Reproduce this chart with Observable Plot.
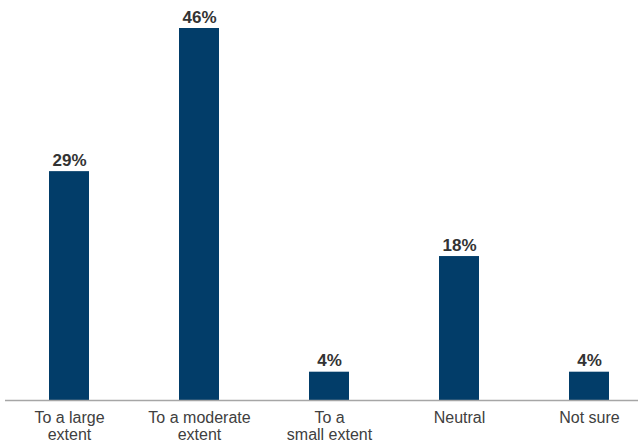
<!DOCTYPE html>
<html>
<head>
<meta charset="utf-8">
<script src="https://cdn.jsdelivr.net/npm/d3@7"></script>
<script src="https://cdn.jsdelivr.net/npm/@observablehq/plot@0.6"></script>
<style>
  html, body { margin: 0; padding: 0; background: #fff; }
  #chart svg { display: block; }
</style>
</head>
<body>
<div id="chart"></div>
<script>
const categories = ["To a large extent", "To a moderate extent", "To a small extent", "Neutral", "Not sure"];
const tickLabels = ["To a large\nextent", "To a moderate\nextent", "To a\nsmall extent", "Neutral", "Not sure"];
const values = [28.3, 46, 3.5, 17.8, 3.5];
const valueLabels = ["29%", "46%", "4%", "18%", "4%"];

const data = categories.map((c, i) => ({category: c, value: values[i], label: valueLabels[i]}));
const tickMap = new Map(categories.map((c, i) => [c, tickLabels[i]]));

const chart = Plot.plot({
  width: 638,
  height: 446,
  marginTop: 28,
  marginBottom: 46,
  marginLeft: 5,
  marginRight: 0,
  style: {fontFamily: "'Liberation Sans', Arial, sans-serif", background: "#fff"},
  x: {domain: categories, paddingInner: 0.694, paddingOuter: 0.27, align: 0.6, label: null},
  y: {domain: [0, 46], axis: null},
  marks: [
    Plot.barY(data, {x: "category", y: "value", fill: "#023d69"}),
    Plot.ruleY([0], {stroke: "#a6a6a6", strokeWidth: 1.5}),
    Plot.text(data, {x: "category", y: "value", text: "label", lineAnchor: "bottom", dy: -6,
      fontSize: 17, fontWeight: "bold", fill: "#333"}),
    Plot.axisX({tickSize: 0, tickPadding: 10, fontSize: 16, lineHeight: 1.08, fill: "#404040",
      tickFormat: d => tickMap.get(d), label: null})
  ]
});
document.getElementById("chart").appendChild(chart);
</script>
</body>
</html>
